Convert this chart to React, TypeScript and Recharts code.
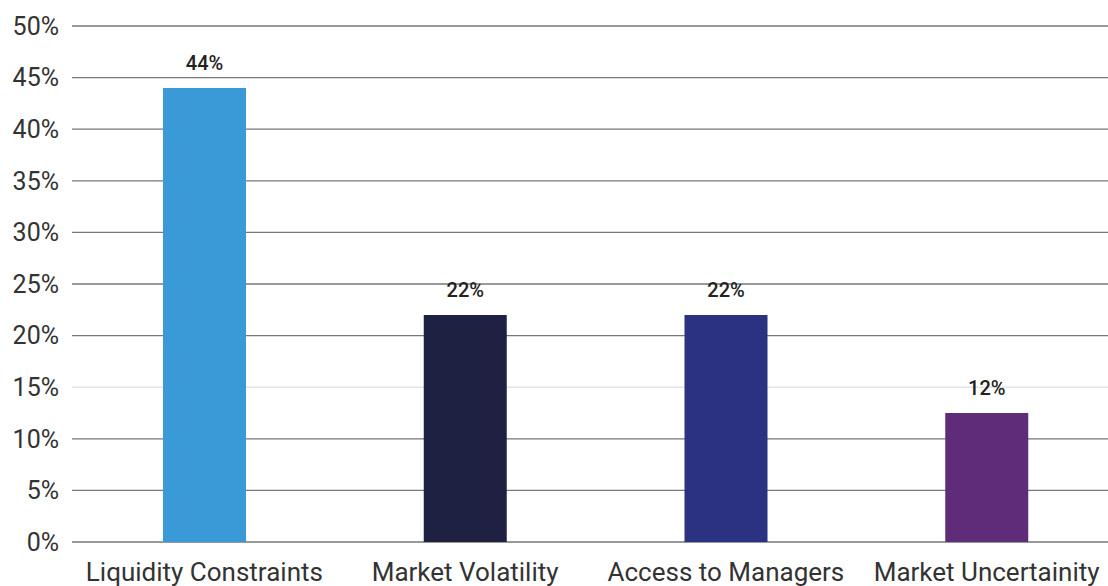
import React from "react";
import {
  BarChart,
  Bar,
  XAxis,
  YAxis,
  CartesianGrid,
  LabelList,
  Cell,
} from "recharts";

// chart values
const categories = [
  "Liquidity Constraints",
  "Market Volatility",
  "Access to Managers",
  "Market Uncertainity",
];
const shares = [44, 22, 22, 12.5];
const shareLabels = ["44%", "22%", "22%", "12%"];
const barColors = ["#3A9AD7", "#1F2143", "#2B3281", "#5F2C79"];
const yTicks = [0, 5, 10, 15, 20, 25, 30, 35, 40, 45, 50];

const data = categories.map((name, i) => ({
  name,
  value: shares[i],
  label: shareLabels[i],
}));

const fontFamily = "Roboto, sans-serif";

// the 15% gridline is drawn lighter than the others
const gridLine = (props: any) => {
  const light = yTicks[props.index] === 15;
  return (
    <line
      key={props.key ?? `grid-${props.index}`}
      x1={props.x1}
      y1={props.y1}
      x2={props.x2}
      y2={props.y2}
      stroke={light ? "#ddd" : "#777"}
      strokeWidth={1.3}
      fill="none"
    />
  );
};

const App: React.FC = () => {
  return (
    <div
      style={{
        position: "absolute",
        left: 0,
        top: 0,
        width: 1108,
        height: 586,
        overflow: "hidden",
        background: "#fff",
      }}
    >
      <BarChart
        width={1117}
        height={586}
        data={data}
        margin={{ top: 26, right: 0, left: 0, bottom: 0 }}
        barSize={83}
      >
        <CartesianGrid vertical={false} horizontal={gridLine} />
        <XAxis
          dataKey="name"
          height={44}
          axisLine={false}
          tickLine={false}
          tickSize={0}
          tickMargin={21}
          padding={{ left: 2, right: 0 }}
          tick={{ fill: "#333", fontSize: 26, fontFamily }}
          interval={0}
        />
        <YAxis
          width={72}
          domain={[0, 50]}
          ticks={yTicks}
          axisLine={false}
          tickLine={false}
          tickSize={0}
          tickMargin={13}
          tickFormatter={(v: number) => `${v}%`}
          tick={{ fill: "#333", fontSize: 25, fontFamily }}
        />
        <Bar dataKey="value" isAnimationActive={false}>
          {data.map((entry, index) => (
            <Cell key={`cell-${index}`} fill={barColors[index]} />
          ))}
          <LabelList
            dataKey="label"
            position="top"
            offset={18}
            style={{
              fill: "#222",
              fontSize: 20,
              fontWeight: 500,
              fontFamily,
            }}
          />
        </Bar>
      </BarChart>
    </div>
  );
};

export default App;
